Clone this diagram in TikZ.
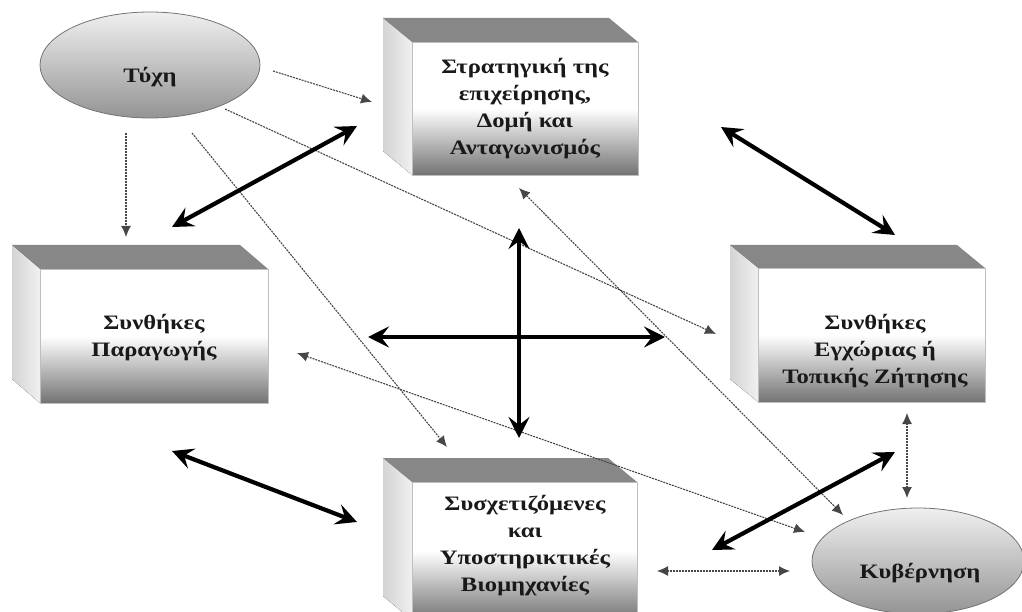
\documentclass[tikz,border=0pt]{standalone}
\usepackage{fontspec}
\setmainfont{Liberation Serif}
\newfontfamily\grfont[FakeStretch=1.2]{Liberation Serif}
\usetikzlibrary{arrows.meta,shapes.geometric,calc}
\tikzset{
  facefront/.style={draw=black!25, line width=0.4pt, top color=white, bottom color=black!55, middle color=white},
  faceleft/.style={draw=none, left color=black!17, right color=black!6},
  facetop/.style={draw=none, fill=black!47},
  label/.style={align=center, text=black!90, font=\grfont\fontsize{20.5}{27}\selectfont\bfseries, inner sep=0pt},
  oval/.style={ellipse, draw=black!55, line width=0.8pt, top color=black!6, bottom color=black!42},
  thick arrow/.style={line width=4.2pt, {Stealth[length=21pt,width=21pt,inset=8pt]}-{Stealth[length=21pt,width=21pt,inset=8pt]}},
  dotline/.style={draw=black!72, line width=1.1pt, dash pattern=on 2pt off 1pt},
  dothead/.style={dotline, -{Latex[length=11pt,width=10pt]}},
  dotboth/.style={dotline, {Latex[length=11pt,width=10pt]}-{Latex[length=11pt,width=10pt]}},
}
% cube: #1 name, #2 x1, #3 y1 (front top-left), #4 x2, #5 y2 (front bottom-right), #6 dx, #7 dy
\newcommand{\mycube}[7]{%
  \fill[facetop] (#2,#3) -- ++(#6,#7) -- ($(#4,#3)+(#6,#7)$) -- (#4,#3) -- cycle;
  \fill[faceleft] (#2,#3) -- ++(#6,#7) -- ($(#2,#5)+(#6,#7)$) -- (#2,#5) -- cycle;
  \node[facefront, minimum width={#4-#2}, minimum height={#5-#3}, inner sep=0pt, anchor=north west] (#1) at (#2,#3) {};
}
\begin{document}
\begin{tikzpicture}[x=1pt, y=-1pt]
\useasboundingbox (0,0) rectangle (1022,612);

% boxes
\mycube{strat}{412}{42}{638}{175}{-29}{-24}
\mycube{parag}{40}{269}{268}{403}{-28}{-24}
\mycube{zitisi}{758}{268}{985}{402}{-28}{-23}
\mycube{sysch}{412}{482}{637}{620}{-29}{-24}

\node[label] (strat-t) at (525,109) {Στρατηγική της\\επιχείρησης,\\Δομή και\\Ανταγωνισμός};
\node[label] (parag-t) at (154,338) {Συνθήκες\\Παραγωγής};
\node[label] (zitisi-t) at (875,351) {Συνθήκες\\Εγχώριας ή\\Τοπικής Ζήτησης};
\node[label] (sysch-t) at (525,546) {Συσχετιζόμενες\\και\\Υποστηρικτικές\\Βιομηχανίες};

% ellipses
\node[oval, minimum width=220pt, minimum height=106pt] (tyche) at (150,65) {};
\node[label] (tyche-t) at (150,77) {Τύχη};
\node[oval, minimum width=212pt, minimum height=106pt] (kyv) at (918,561) {};
\node[label] (kyv-t) at (920,573) {Κυβέρνηση};

% arrow end points
\coordinate (t1a) at (172,227); \coordinate (t1b) at (357,126);
\coordinate (t2a) at (721,127); \coordinate (t2b) at (895,235);
\coordinate (t3a) at (519,228); \coordinate (t3b) at (519,438);
\coordinate (t4a) at (368,337); \coordinate (t4b) at (665,337);
\coordinate (t5a) at (172,451); \coordinate (t5b) at (357,522);
\coordinate (t6a) at (712,550); \coordinate (t6b) at (895,452);

\coordinate (da) at (273,71);  \coordinate (db) at (372,102);
\coordinate (dc) at (126,133); \coordinate (dd) at (126,237);
\coordinate (de) at (225,109); \coordinate (df) at (716,334);
\coordinate (dg) at (192,133); \coordinate (dh) at (447,447);
\coordinate (di) at (519,188); \coordinate (dj) at (843,515);
\coordinate (dk) at (297,353); \coordinate (dl) at (805,532);
\coordinate (dm) at (657,571); \coordinate (dn) at (790,571);
\coordinate (do) at (907,413); \coordinate (dp) at (907,498);

% dotted arrows
\draw[dothead] (da) -- (db);
\draw[dothead] (dc) -- (dd);
\draw[dothead] (de) -- (df);
\draw[dothead] (dg) -- (dh);
\draw[dotboth] (di) -- (dj);
\draw[dotboth] (dk) -- (dl);
\draw[dotboth] (dm) -- (dn);
\draw[dotboth] (do) -- (dp);

% thick arrows
\draw[thick arrow] (t1a) -- (t1b);
\draw[thick arrow] (t2a) -- (t2b);
\draw[thick arrow] (t3a) -- (t3b);
\draw[thick arrow] (t4a) -- (t4b);
\draw[thick arrow] (t5a) -- (t5b);
\draw[thick arrow] (t6a) -- (t6b);
\end{tikzpicture}
\end{document}
